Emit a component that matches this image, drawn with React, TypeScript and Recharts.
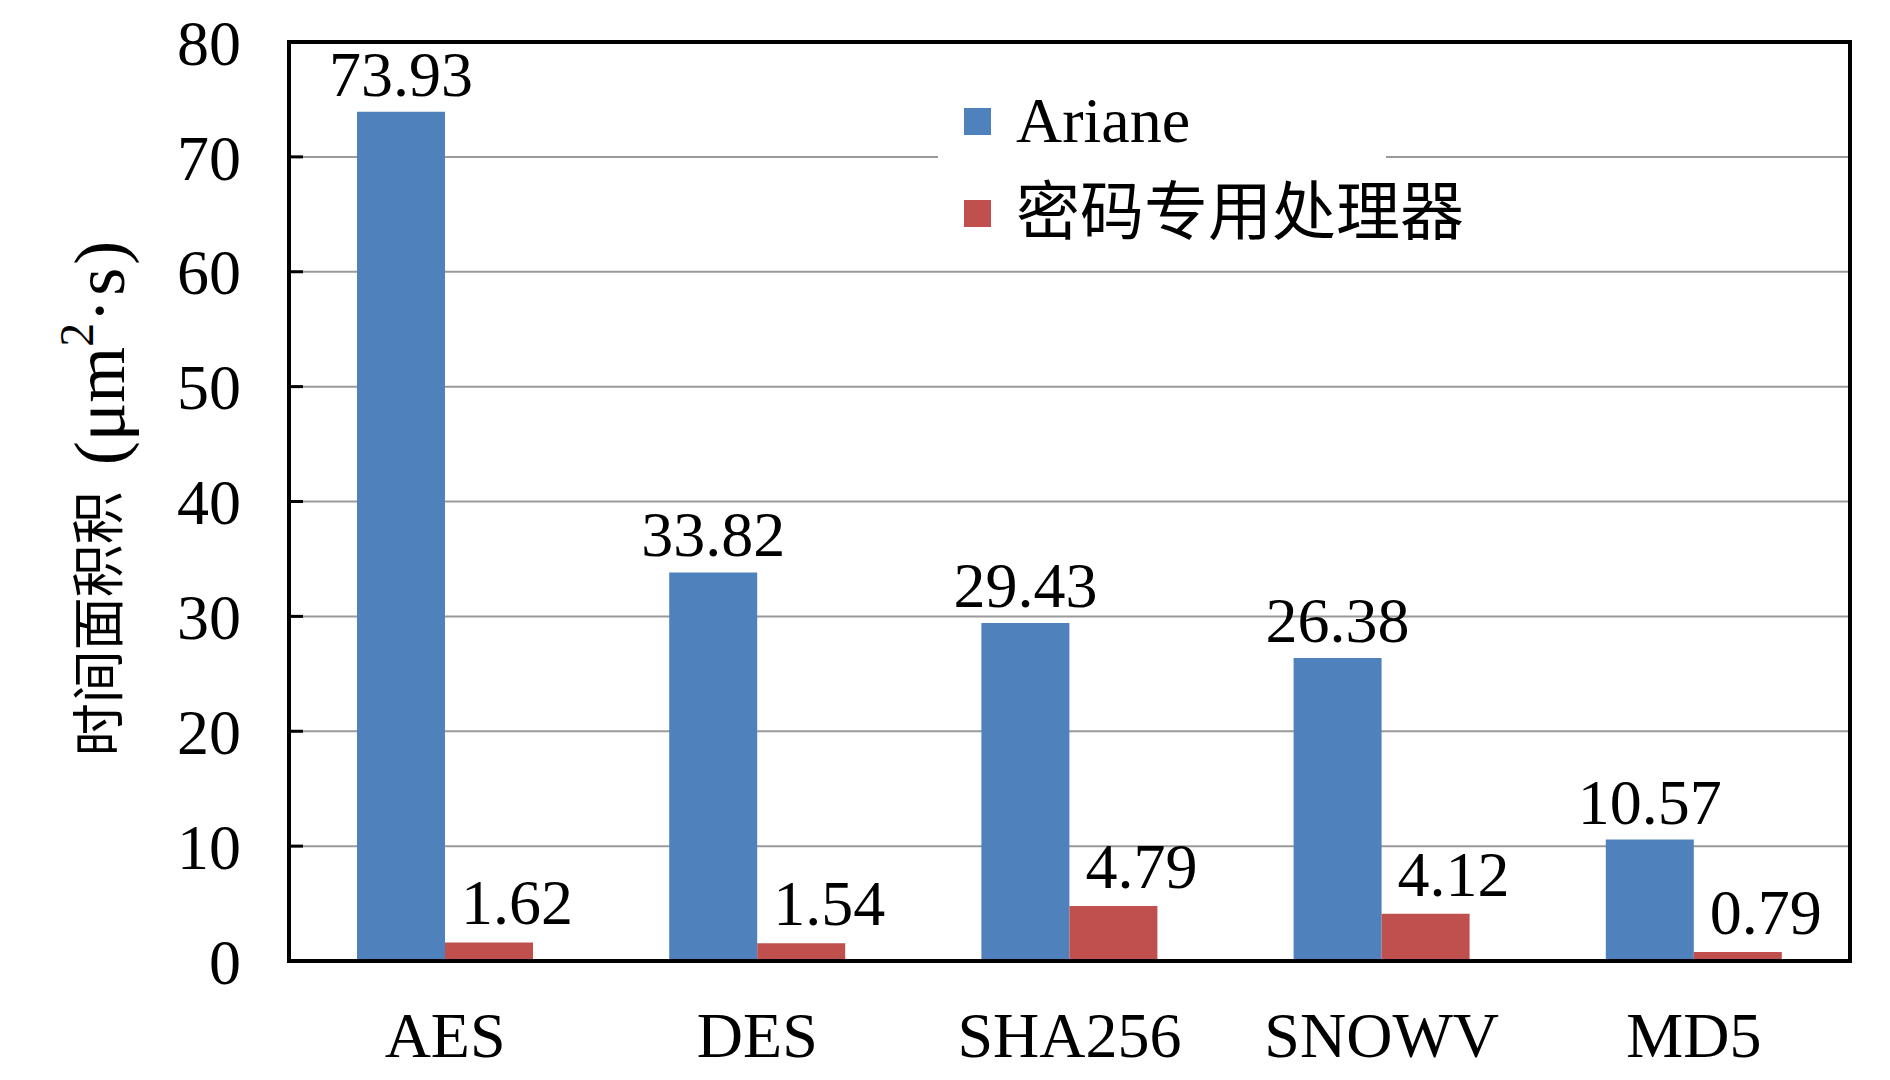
import React from "react";
import {
  BarChart,
  Bar,
  XAxis,
  YAxis,
  CartesianGrid,
  Legend,
  LabelList,
  ReferenceArea,
} from "recharts";

const categories = ["AES", "DES", "SHA256", "SNOWV", "MD5"];
const arianeValues = [73.93, 33.82, 29.43, 26.38, 10.57];
const cryptoValues = [1.62, 1.54, 4.79, 4.12, 0.79];
const yTicks = [0, 10, 20, 30, 40, 50, 60, 70, 80];

const seriesNames = ["Ariane", "密码专用处理器"];
const BLUE = "#4F81BD";
const RED = "#C0504D";
const FONT = "'Liberation Serif', 'Noto Sans CJK SC', serif";

const data = categories.map((name, i) => ({
  name,
  ariane: arianeValues[i],
  crypto: cryptoValues[i],
}));

function renderLegend() {
  const items = [
    { label: seriesNames[0], color: BLUE },
    { label: seriesNames[1], color: RED },
  ];
  return (
    <div style={{ background: "#fff", width: 448, fontFamily: FONT, whiteSpace: "nowrap" }}>
      {items.map((it) => (
        <div
          key={it.label}
          style={{ display: "flex", alignItems: "center", height: 92, paddingLeft: 26 }}
        >
          <span style={{ width: 27, height: 27, background: it.color, marginRight: 25, flex: "none" }} />
          <span style={{ fontSize: 64, color: "#000", lineHeight: 1, whiteSpace: "nowrap" }}>{it.label}</span>
        </div>
      ))}
    </div>
  );
}

function yTitle() {
  return (
    <text
      x={100}
      y={497}
      transform="rotate(-90 100 497)"
      textAnchor="middle"
      dominantBaseline="central"
      fontSize={53}
      fontFamily={FONT}
      fill="#000"
    >
      时间面积积
      <tspan fontSize={72} dx={8}> (μm</tspan>
      <tspan dy={-24} fontSize={48}>2</tspan>
      <tspan dy={24} fontSize={72} letterSpacing={3}>·s)</tspan>
    </text>
  );
}

export default function App() {
  return (
    <div style={{ position: "absolute", left: 0, top: 0, background: "#fff" }}>
      <BarChart
        width={1890}
        height={1080}
        data={data}
        margin={{ top: 42, right: 40, bottom: 0, left: 0 }}
        barGap={0}
      >
        <CartesianGrid vertical={false} stroke="#9a9a9a" strokeWidth={2} />
        <XAxis
          dataKey="name"
          height={119}
          tickLine={false}
          tickSize={0}
          tickMargin={51}
          axisLine={{ stroke: "#000", strokeWidth: 4 }}
          tick={{ fill: "#000", fontSize: 64, fontFamily: FONT }}
        />
        <YAxis
          width={289}
          domain={[0, 80]}
          ticks={yTicks}
          interval={0}
          tickSize={-14}
          tickMargin={62}
          tickLine={{ stroke: "#000", strokeWidth: 3 }}
          axisLine={{ stroke: "#000", strokeWidth: 4 }}
          tick={{ fill: "#000", fontSize: 64, fontFamily: FONT }}
          label={{ content: yTitle }}
        />
        <Legend
          layout="vertical"
          align="center"
          verticalAlign="middle"
          content={renderLegend}
          wrapperStyle={{ left: 938, top: 75, width: 448 }}
        />
        <Bar dataKey="ariane" name={seriesNames[0]} fill={BLUE} barSize={88} isAnimationActive={false}>
          <LabelList
            dataKey="ariane"
            position="top"
            offset={16}
            fill="#000"
            fontSize={64}
            fontFamily={FONT}
          />
        </Bar>
        <Bar dataKey="crypto" name={seriesNames[1]} fill={RED} barSize={88} isAnimationActive={false}>
          <LabelList
            dataKey="crypto"
            position="top"
            offset={18}
            dx={28}
            fill="#000"
            fontSize={64}
            fontFamily={FONT}
          />
        </Bar>
        <ReferenceArea y1={0} y2={80} fill="none" stroke="#000" strokeWidth={4} ifOverflow="visible" />
      </BarChart>
    </div>
  );
}
